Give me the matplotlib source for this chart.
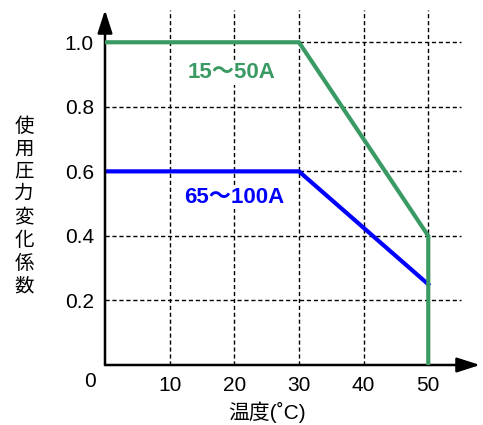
import matplotlib.pyplot as plt

plt.rcParams['font.family'] = ['Liberation Sans', 'Noto Sans CJK JP', 'DejaVu Sans']

# 曲線資料
temp_green = [0, 30, 50, 50]
coef_green = [1.0, 1.0, 0.4, 0.0]
temp_blue = [0, 30, 50]
coef_blue = [0.6, 0.6, 0.25]

x_ticks = [10, 20, 30, 40, 50]
y_ticks = [0.2, 0.4, 0.6, 0.8, 1.0]
y_tick_labels = ['0.2', '0.4', '0.6', '0.8', '1.0']

green = '#3a9a64'
blue = '#0000ff'

fig = plt.figure(figsize=(4.83, 4.25), dpi=100)
ax = fig.add_axes([105 / 483, 60 / 425, 375 / 483, 355 / 425])
ax.set_xlim(0, 58)
ax.set_ylim(0, 1.1)

for s in ['top', 'right', 'left', 'bottom']:
    ax.spines[s].set_visible(False)

# 格線
ax.hlines(y_ticks, 0, 55, colors='black', linestyles=(0, (3, 2)), linewidth=1, zorder=1)
ax.vlines(x_ticks, 0, 1.1, colors='black', linestyles=(0, (3, 2)), linewidth=1, zorder=1)

# 座標軸箭頭
ax.annotate('', xy=(0, 1.1), xytext=(0, 0), annotation_clip=False,
            arrowprops=dict(arrowstyle='-|>,head_length=1.4,head_width=0.45', color='black', lw=1.8,
                            shrinkA=0, shrinkB=0))
ax.annotate('', xy=(58, 0), xytext=(0, 0), annotation_clip=False,
            arrowprops=dict(arrowstyle='-|>,head_length=1.4,head_width=0.45', color='black', lw=1.8,
                            shrinkA=0, shrinkB=0))

ax.plot(temp_green, coef_green, color=green, linewidth=3, zorder=3, solid_joinstyle='miter')
ax.plot(temp_blue, coef_blue, color=blue, linewidth=3, zorder=2, solid_joinstyle='miter')

box = dict(facecolor='white', edgecolor='none', pad=1)
ax.text(19.6, 0.905, '15～50A', color=green, fontsize=16, fontweight='bold',
        ha='center', va='center', bbox=box, zorder=4)
ax.text(20, 0.52, '65～100A', color=blue, fontsize=16, fontweight='bold',
        ha='center', va='center', bbox=box, zorder=4)

ax.set_xticks(x_ticks)
ax.set_xticklabels([str(t) for t in x_ticks])
ax.set_yticks(y_ticks)
ax.set_yticklabels(y_tick_labels)
ax.tick_params(length=0, labelsize=15, pad=8)
ax.text(-2.3, -0.05, '0', fontsize=15, ha='center', va='center')

ax.text(-12.5, 0.49, '\n'.join('使用圧力変化係数'), fontsize=14, ha='center', va='center',
        linespacing=1.38)
fig.text(267 / 483, 1 - 412 / 425, '温度(˚C)', fontsize=15, ha='center', va='center')

fig.savefig('out.png', dpi=100)
